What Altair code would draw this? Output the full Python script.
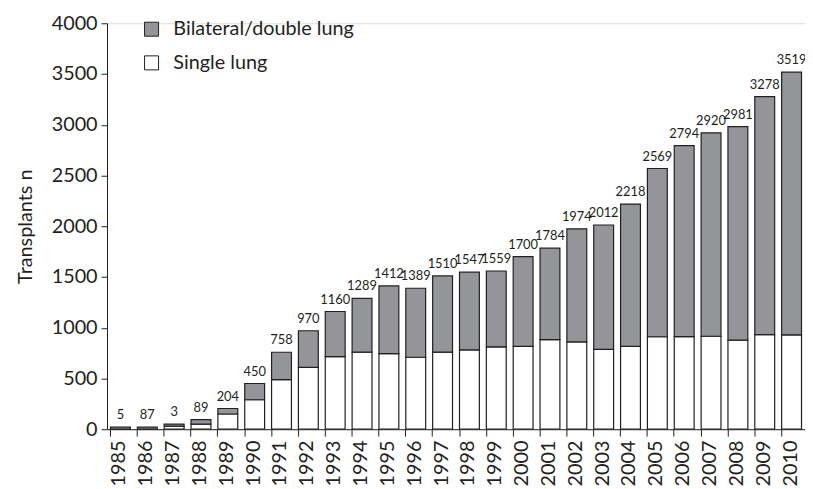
import altair as alt
import pandas as pd

years = [str(y) for y in range(1985, 2011)]
single = [0, 0, 30, 50, 150, 290, 489, 610, 716, 759, 745, 709, 760, 781,
          812, 817, 883, 860, 786, 817, 911, 913, 916, 877, 931, 930]
bilateral = [20, 20, 20, 45, 54, 160, 269, 360, 444, 530, 667, 680, 750, 766,
             747, 883, 901, 1114, 1226, 1401, 1658, 1881, 2004, 2104, 2347, 2589]
label_text = ["5", "87", "3", "89", "204", "450", "758", "970", "1160", "1289",
              "1412", "1389", "1510", "1547", "1559", "1700", "1784", "1974",
              "2012", "2218", "2569", "2794", "2920", "2981", "3278", "3519"]
series = ["Bilateral/double lung", "Single lung"]
y_ticks = [0, 500, 1000, 1500, 2000, 2500, 3000, 3500, 4000]

rows = []
for i, yr in enumerate(years):
    rows.append({"year": yr, "type": "Single lung", "value": single[i], "ord": 0})
    rows.append({"year": yr, "type": "Bilateral/double lung", "value": bilateral[i], "ord": 1})
df = pd.DataFrame(rows)

lab = pd.DataFrame({
    "year": years,
    "total": [s + b for s, b in zip(single, bilateral)],
    "label": label_text,
})

FONT = "Lato"
INK = "#231f20"

x_enc = alt.X(
    "year:N",
    sort=years,
    scale=alt.Scale(paddingInner=0.26, paddingOuter=0.13),
    axis=alt.Axis(
        title=None, labelAngle=-90, labelFontSize=20, labelFont=FONT,
        labelColor=INK, tickSize=7, tickColor=INK, domainColor=INK,
        labelPadding=4, bandPosition=0, labelOffset=-1, grid=False,
    ),
)

bars = alt.Chart(df).mark_bar(stroke=INK, strokeWidth=1.2, opacity=1).encode(
    x=x_enc,
    y=alt.Y(
        "sum(value):Q",
        stack="zero",
        scale=alt.Scale(domain=[0, 4000], nice=False),
        axis=alt.Axis(
            values=y_ticks, format="d", title="Transplants n", titleFontSize=20,
            titleFont=FONT, titleFontWeight="normal", titleColor=INK,
            labelFontSize=20, labelFont=FONT, labelColor=INK, tickSize=6,
            tickColor=INK, domainColor=INK, labelPadding=4, titlePadding=16,
            grid=False,
        ),
    ),
    color=alt.Color(
        "type:N",
        scale=alt.Scale(domain=series, range=["#939598", "#ffffff"]),
        legend=alt.Legend(
            title=None, orient="none", legendX=35, legendY=-4,
            symbolType="square", symbolSize=200, symbolStrokeColor=INK,
            symbolStrokeWidth=1, symbolOpacity=1, labelFontSize=20,
            labelFont=FONT, labelColor=INK, rowPadding=14, labelOffset=12,
            padding=0, labelLimit=0,
        ),
    ),
    order=alt.Order("ord:Q", sort="ascending"),
)

texts = alt.Chart(lab).mark_text(
    baseline="bottom", dy=-5, fontSize=13, font=FONT, color=INK
).encode(
    x=alt.X("year:N", sort=years),
    y=alt.Y("total:Q"),
    text="label:N",
)

chart = alt.layer(bars, texts).properties(
    width=705,
    height=410,
    autosize=alt.AutoSizeParams(type="none"),
    padding={"left": 100, "top": 13, "right": 0, "bottom": 60},
).configure_view(strokeWidth=0).configure(background="white")

chart.save("out.html", embed_options={"renderer": "svg", "actions": False})
